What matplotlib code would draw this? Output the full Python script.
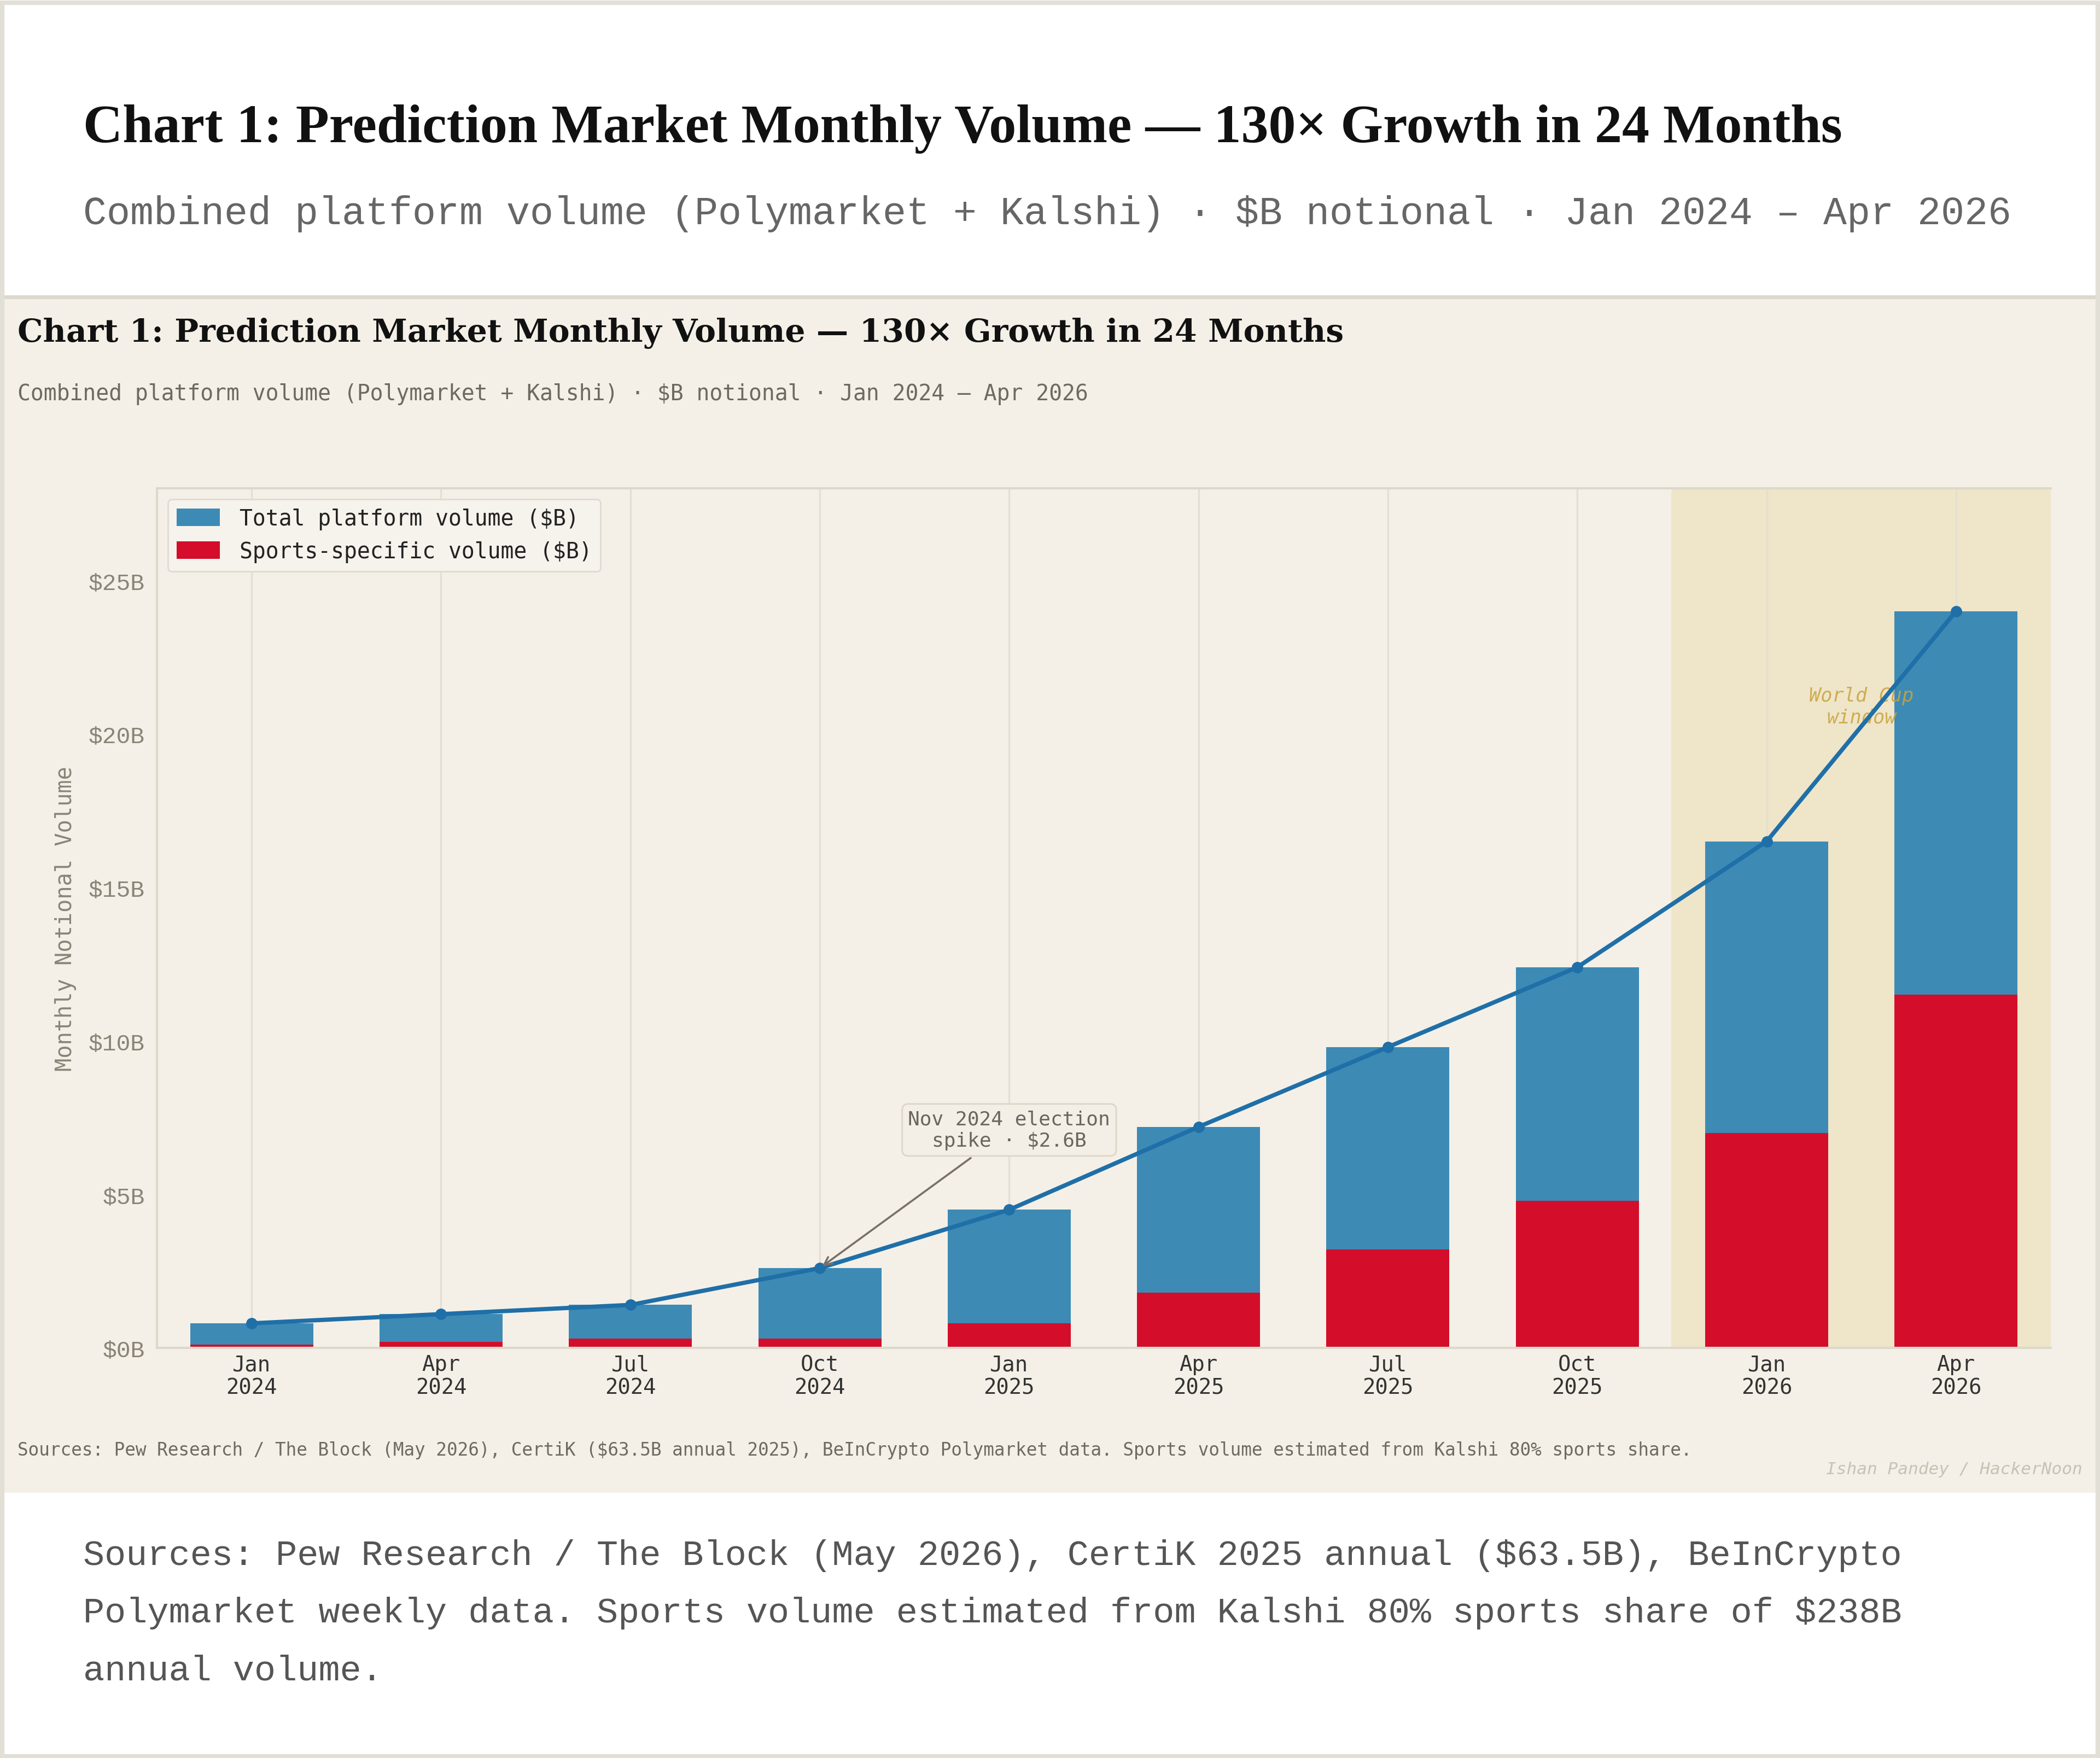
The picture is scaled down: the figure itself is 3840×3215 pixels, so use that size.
import matplotlib
matplotlib.use("Agg")
import matplotlib.pyplot as plt
from matplotlib.patches import Rectangle

# ---- data -------------------------------------------------------------
quarters = ["Jan\n2024", "Apr\n2024", "Jul\n2024", "Oct\n2024", "Jan\n2025",
            "Apr\n2025", "Jul\n2025", "Oct\n2025", "Jan\n2026", "Apr\n2026"]
total_volume = [0.8, 1.1, 1.4, 2.6, 4.5, 7.2, 9.8, 12.4, 16.5, 24.0]
sports_volume = [0.1, 0.2, 0.3, 0.3, 0.8, 1.8, 3.2, 4.8, 7.0, 11.5]
y_ticks = [0, 5, 10, 15, 20, 25]

# ---- colours ----------------------------------------------------------
PANEL = "#f4f0e7"
BLUE_BAR = "#3d8ab5"
RED_BAR = "#d40d2a"
LINE = "#1f6fa8"
MONO = "DejaVu Sans Mono"

W, H = 3840, 3216
fig = plt.figure(figsize=(W / 200, H / 200), dpi=200, facecolor="white")


def fx(px):
    return px / W


def fy(px):
    return 1 - px / H


# page border + chart panel
fig.patches.append(Rectangle((0.0, fy(2731)), 1.0, fy(544) - fy(2731),
                             transform=fig.transFigure, facecolor=PANEL,
                             edgecolor="none", zorder=-2))
fig.patches.append(Rectangle((0.001, 0.001), 0.998, 0.997, transform=fig.transFigure,
                             facecolor="none", edgecolor="#e2dfd6", lw=3, zorder=-1))
fig.lines.append(plt.Line2D([0, 1], [fy(544), fy(544)], transform=fig.transFigure,
                            color="#dcd8ce", lw=2.5, zorder=-1))

# outer page heading
fig.text(fx(152), fy(260), "Chart 1: Prediction Market Monthly Volume — 130× Growth in 24 Months",
         family="Liberation Serif", weight="bold", fontsize=36, color="#111111", va="baseline")
fig.text(fx(152), fy(410), "Combined platform volume (Polymarket + Kalshi) · $B notional · Jan 2024 – Apr 2026",
         family="Liberation Mono", fontsize=25.8, color="#666666", va="baseline")

# inner chart heading
fig.text(fx(32), fy(625), "Chart 1: Prediction Market Monthly Volume — 130× Growth in 24 Months",
         family="DejaVu Serif", weight="bold", fontsize=21, color="#111111", va="baseline")
fig.text(fx(32), fy(732), "Combined platform volume (Polymarket + Kalshi) · $B notional · Jan 2024 – Apr 2026",
         family=MONO, fontsize=14.3, color="#6e6a62", va="baseline")

# ---- axes -------------------------------------------------------------
ax = fig.add_axes([fx(287), fy(2466), fx(3750) - fx(287), fy(894) - fy(2466)])
ax.set_zorder(2)
ax.set_facecolor(PANEL)
x = list(range(len(quarters)))

ax.axvspan(7.5, 9.5, color="#efe5c9", zorder=0)
for xi in x:
    ax.axvline(xi, color="#e4dfd4", lw=1.2, zorder=0.5)

ax.bar(x, total_volume, width=0.65, color=BLUE_BAR, zorder=2,
       label="Total platform volume ($B)")
ax.bar(x, sports_volume, width=0.65, color=RED_BAR, zorder=2.5,
       label="Sports-specific volume ($B)")
ax.text(8.5, 20.9, "World Cup\nwindow", ha="center", va="center", family=MONO,
        style="italic", fontsize=12.7, color="#c9a43c", alpha=0.85, zorder=2.7)
ax.plot(x, total_volume, color=LINE, lw=2.8, marker="o", markersize=6.5, zorder=3)

ax.annotate("Nov 2024 election\nspike · $2.6B", xy=(3, total_volume[3]), xytext=(4, 7.1),
            ha="center", va="center", family=MONO, fontsize=13, color="#6b655c",
            bbox=dict(boxstyle="round,pad=0.3", facecolor="#f3efe6", edgecolor="#ddd6c8", lw=1),
            arrowprops=dict(arrowstyle="->", color="#7a7068", lw=1.3), zorder=4)

ax.set_xlim(-0.5, 9.5)
ax.set_ylim(0, 28)
ax.set_xticks(x)
ax.set_xticklabels(quarters, family=MONO, fontsize=14, color="#333333", linespacing=1.15)
ax.set_yticks(y_ticks)
ax.set_yticklabels(["$%dB" % v for v in y_ticks], family="Liberation Mono",
                   fontsize=15.5, color="#8a8378")
ax.tick_params(length=0)
ax.tick_params(axis="x", pad=4)
ax.tick_params(axis="y", pad=8)
ax.set_ylabel("Monthly Notional Volume", family=MONO, fontsize=14.5, color="#8a8378", labelpad=8)

for side in ("left", "bottom", "top"):
    ax.spines[side].set_color("#ddd8cc")
    ax.spines[side].set_linewidth(1.5)
ax.spines["right"].set_visible(False)

leg = ax.legend(loc="upper left", prop={"family": MONO, "size": 14.3}, frameon=True,
                facecolor="#f6f3ed", edgecolor="#e0dbd0", framealpha=1,
                handlelength=2.0, handleheight=0.85, handletextpad=0.9,
                borderpad=0.4, labelspacing=0.5)
for t in leg.get_texts():
    t.set_color("#222222")

# footers inside the chart panel
fig.text(fx(32), fy(2662), "Sources: Pew Research / The Block (May 2026), CertiK ($63.5B annual 2025), "
         "BeInCrypto Polymarket data. Sports volume estimated from Kalshi 80% sports share.",
         family=MONO, fontsize=11.75, color="#6e6a62", va="baseline")
fig.text(fx(3808), fy(2696), "Ishan Pandey / HackerNoon", family=MONO, style="italic",
         fontsize=11.2, color="#c8c2b6", ha="right", va="baseline")

# page caption
caption = ["Sources: Pew Research / The Block (May 2026), CertiK 2025 annual ($63.5B), BeInCrypto",
           "Polymarket weekly data. Sports volume estimated from Kalshi 80% sports share of $238B",
           "annual volume."]
for i, line in enumerate(caption):
    fig.text(fx(152), fy(2862 + i * 105.5), line, family="Liberation Mono",
             fontsize=23.5, color="#555555", va="baseline")

fig.savefig("out.png", dpi=200, facecolor="white")
